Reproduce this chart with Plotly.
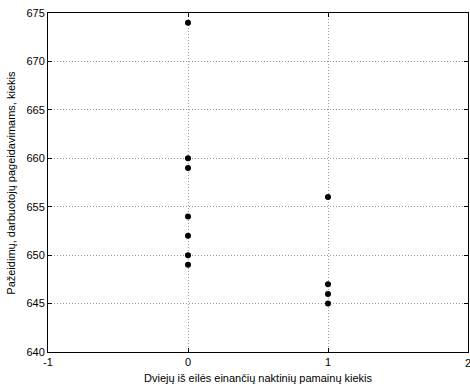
import plotly.graph_objects as go

x_vals = [0, 0, 0, 0, 0, 0, 0, 1, 1, 1, 1]
y_vals = [674, 660, 659, 654, 652, 650, 649, 656, 647, 646, 645]

x_ticks = [-1, 0, 1, 2]
x_ticklabels = ["-1", "0", "1", "2"]
y_ticks = [640, 645, 650, 655, 660, 665, 670, 675]

x_title = "Dviejų iš eilės einančių naktinių pamainų kiekis"
y_title = "Pažeidimų, darbuotojų pageidavimams, kiekis"

fig = go.Figure()
fig.add_trace(go.Scatter(
    x=x_vals, y=y_vals, mode="markers",
    marker=dict(color="black", size=6, symbol="circle"),
    showlegend=False,
))

font_family = "Liberation Sans, Arial, sans-serif"

axis_common = dict(
    showline=True, linecolor="black", linewidth=1, mirror="ticks",
    ticks="inside", ticklen=4, tickcolor="black",
    showgrid=True, gridcolor="#9a9a9a", griddash="1px,2px", gridwidth=1,
    zeroline=False,
    tickfont=dict(family=font_family, size=11, color="black"),
)

# last x tick label ("2") sits on the paper edge, draw it as an annotation
fig.update_xaxes(range=[-1, 2], tickvals=x_ticks[:-1], ticktext=x_ticklabels[:-1], **axis_common)
fig.update_yaxes(range=[640, 675], tickvals=y_ticks, **axis_common)

annotations = [
    dict(text=x_title, xref="paper", yref="paper", x=0.5, y=-0.076,
         xanchor="center", yanchor="middle", showarrow=False,
         font=dict(size=11)),
    dict(text=y_title, xref="paper", yref="paper", x=-0.09, y=0.5,
         xanchor="center", yanchor="middle", textangle=-90, showarrow=False,
         font=dict(size=11)),
    dict(text=x_ticklabels[-1], x=x_ticks[-1], xref="x", yref="paper", y=-0.01,
         xanchor="center", yanchor="top", showarrow=False, font=dict(size=11)),
]

fig.update_layout(
    width=470, height=387,
    margin=dict(l=48, r=2, t=13, b=35),
    plot_bgcolor="white", paper_bgcolor="white",
    font=dict(family=font_family, size=11, color="black"),
    annotations=annotations,
)

fig.write_html("out.html")
